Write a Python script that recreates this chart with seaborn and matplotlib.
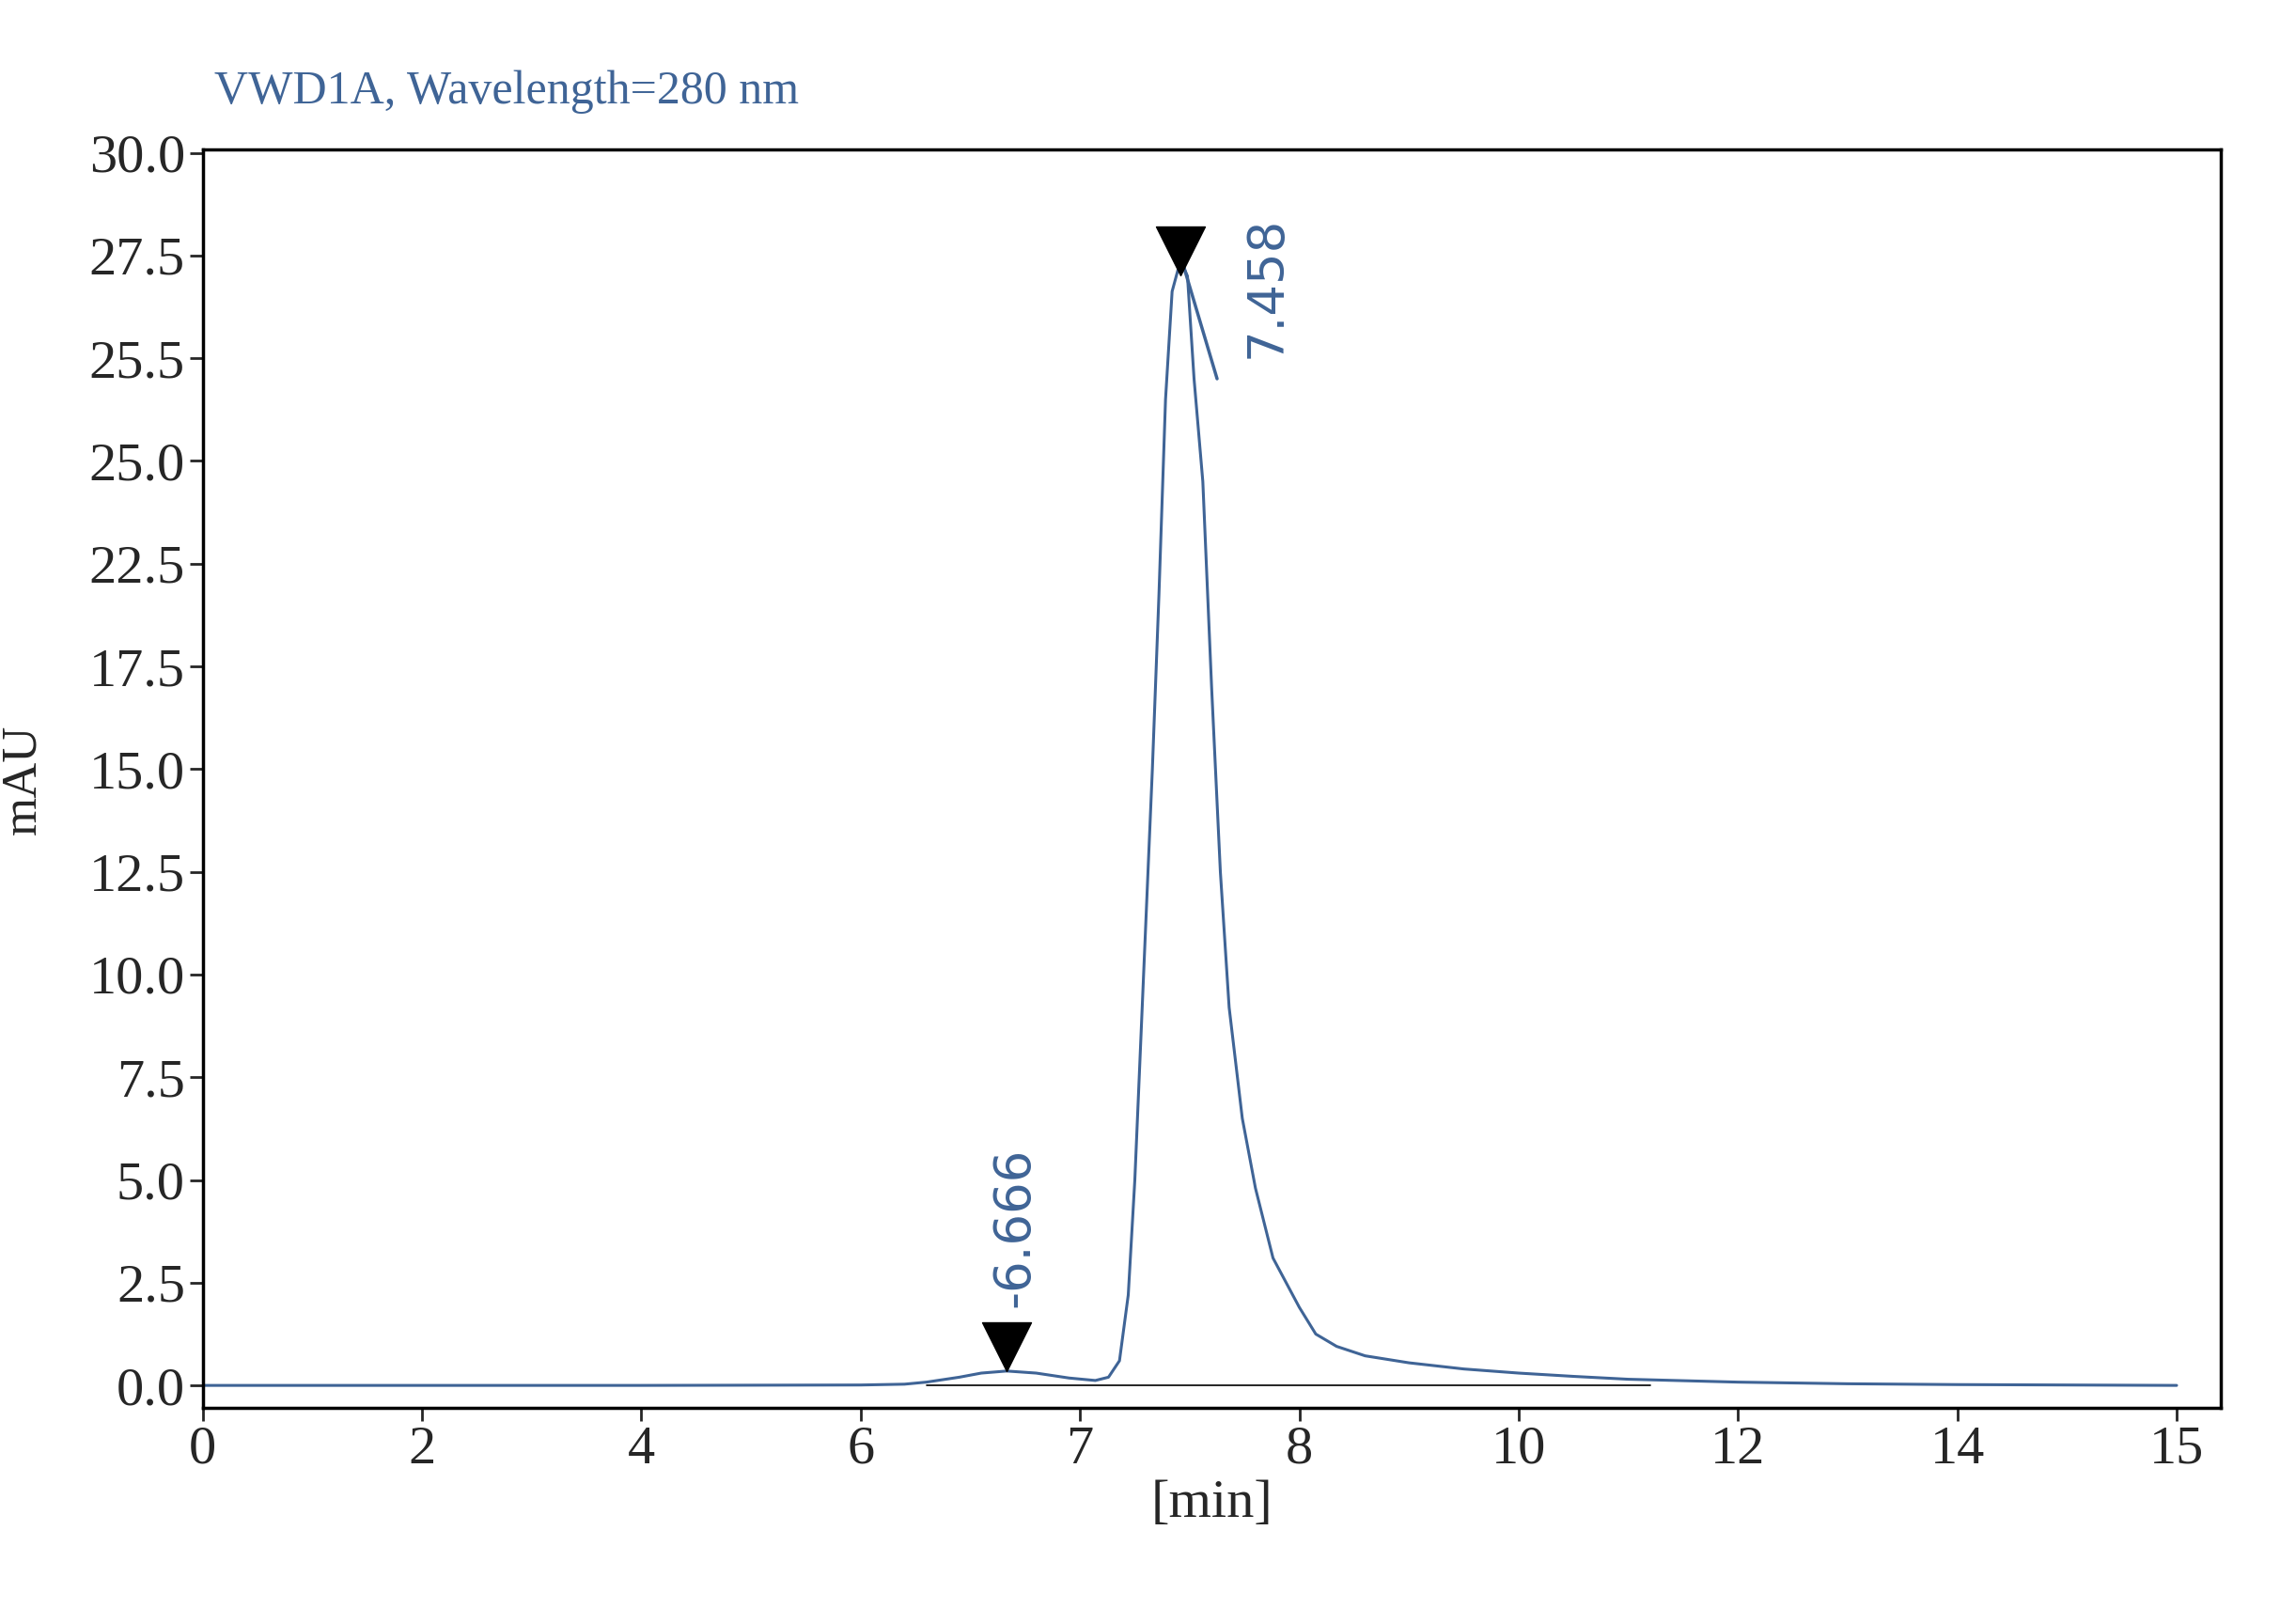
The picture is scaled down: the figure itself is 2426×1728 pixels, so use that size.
import numpy as np
import matplotlib
matplotlib.use("Agg")
import matplotlib.pyplot as plt
import seaborn as sns

# data (minutes, mAU)
t = [0, 2, 4, 6, 6.2, 6.3, 6.45, 6.55, 6.666, 6.8, 6.95, 7.07, 7.13, 7.18, 7.22, 7.25, 7.29, 7.33, 7.36, 7.39,
     7.42, 7.458, 7.49, 7.52, 7.56, 7.6, 7.64, 7.68, 7.74, 7.8, 7.88, 8.0, 8.15, 8.34, 8.6, 9.0, 9.5,
     10.0, 10.5, 11.0, 12.0, 13.0, 14.0, 15.0]
y = [0, 0, 0, 0.01, 0.03, 0.08, 0.2, 0.3, 0.35, 0.3, 0.18, 0.12, 0.2, 0.6, 2.2, 5.0, 10.0, 15.0, 21.0, 25.3,
     26.8, 27.4, 27.1, 25.4, 24.5, 17.0, 12.5, 9.2, 6.5, 4.8, 3.1, 1.9, 1.25, 0.95, 0.72, 0.55, 0.4,
     0.3, 0.22, 0.15, 0.08, 0.04, 0.02, 0.0]
peaks = [6.666, 7.458]
peak_marker_y = [0.95, 27.6]
peak_labels = ["-6.666", "7.458"]
xticks = [0, 2, 4, 6, 7, 8, 10, 12, 14, 15]
yticks = [0.0, 2.5, 5.0, 7.5, 10.0, 12.5, 15.0, 17.5, 22.5, 25.0, 25.5, 27.5, 30.0]

def make_scale(ticks):
    tk = np.array(ticks, dtype=float)
    pos = np.arange(len(tk), dtype=float)
    s_lo = (pos[1] - pos[0]) / (tk[1] - tk[0])
    s_hi = (pos[-1] - pos[-2]) / (tk[-1] - tk[-2])
    def fwd(v):
        v = np.asarray(v, dtype=float)
        out = np.interp(v, tk, pos)
        out = np.where(v > tk[-1], pos[-1] + (v - tk[-1]) * s_hi, out)
        out = np.where(v < tk[0], (v - tk[0]) * s_lo, out)
        return out
    def inv(p):
        p = np.asarray(p, dtype=float)
        out = np.interp(p, pos, tk)
        out = np.where(p > pos[-1], tk[-1] + (p - pos[-1]) / s_hi, out)
        out = np.where(p < 0, tk[0] + p / s_lo, out)
        return out
    return fwd, inv

sns.set_style("white")
plt.rcParams['font.family'] = ['Liberation Serif', 'DejaVu Serif']
blue = "#3f6496"
fig = plt.figure(figsize=(24.26, 17.28), dpi=100)
ax = fig.add_axes([0.0889, 0.133, 0.885, 0.7747])
ax.set_xscale('function', functions=make_scale(xticks))
ax.set_yscale('function', functions=make_scale(yticks))
sns.lineplot(x=t, y=y, ax=ax, color=blue, lw=2.2)
ax.plot([6.3, 11.2], [0, 0], color='black', lw=1.2)
ax.scatter(peaks, peak_marker_y, marker='v', s=1400, color='black', zorder=5)
ax.plot([7.458, 7.625], [27.5, 25.4], color=blue, lw=2.5)
ax.text(6.70, 1.9, peak_labels[0], rotation=90, color=blue, fontsize=38, ha='center', va='bottom',
        family=['DejaVu Sans'])
ax.text(7.85, 25.5, peak_labels[1], rotation=90, color=blue, fontsize=38, ha='center', va='bottom',
        family=['DejaVu Sans'])
ax.set_xlim(0, 15.2)
ax.set_ylim(-0.55, 30.07)
ax.set_xticks(xticks)
ax.set_xticklabels([str(v) for v in xticks])
ax.set_yticks(yticks)
ax.set_yticklabels([f"{v:.1f}" for v in yticks])
ax.minorticks_off()
ax.tick_params(axis='both', labelsize=42, direction='out', length=10, width=2, bottom=True, left=True)
for s in ax.spines.values():
    s.set_linewidth(2.5); s.set_color('black')
ax.set_xlabel("[min]", fontsize=42)
ax.set_ylabel("mAU", fontsize=38)
ax.yaxis.set_label_coords(-0.078, 0.5)
fig.text(0.094, 0.93, "VWD1A, Wavelength=280 nm", color=blue, fontsize=36, ha='left', va='bottom')
fig.savefig("out.png", dpi=100)
